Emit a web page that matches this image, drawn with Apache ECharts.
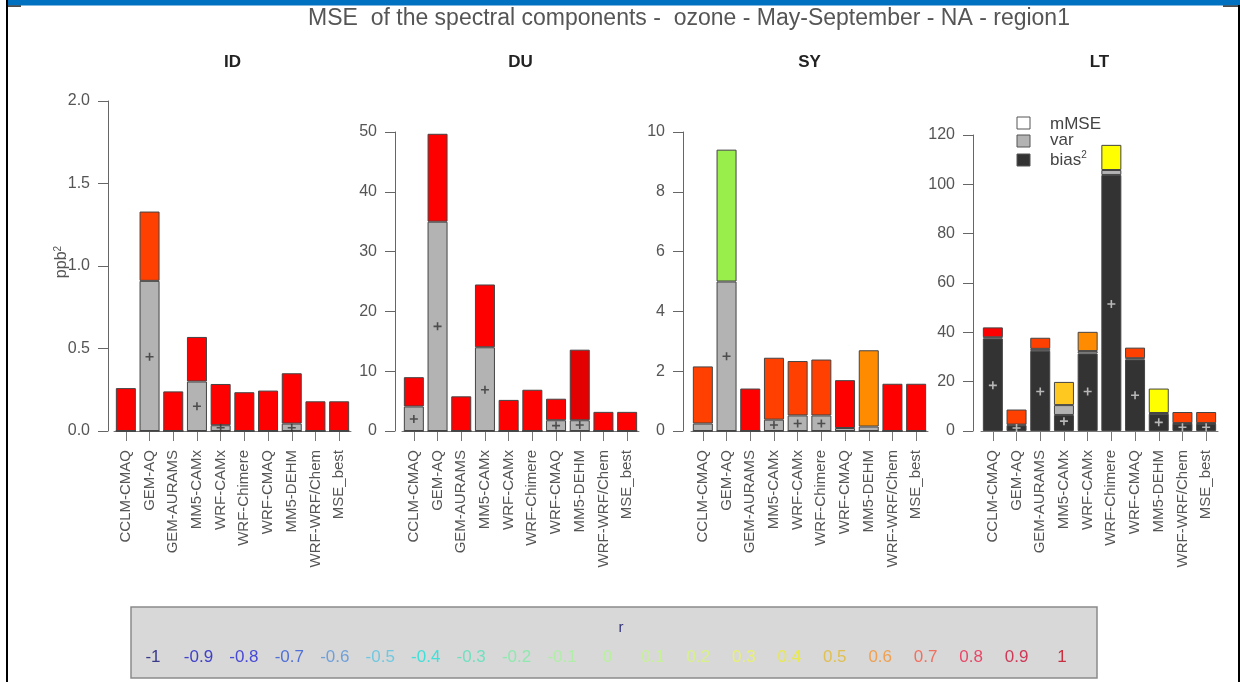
<!DOCTYPE html>
<html>
<head>
<meta charset="utf-8">
<script src="https://cdn.jsdelivr.net/npm/echarts@6/dist/echarts.min.js"></script>
<style>
html, body { margin: 0; padding: 0; background: #fff; }
#main { width: 1240px; height: 682px; }
</style>
</head>
<body>
<div id="main"></div>
<script>
var myChart = echarts.init(document.getElementById('main'));

var models = ['CCLM-CMAQ', 'GEM-AQ', 'GEM-AURAMS', 'MM5-CAMx', 'WRF-CAMx', 'WRF-Chimere', 'WRF-CMAQ', 'MM5-DEHM', 'WRF-WRF/Chem', 'MSE_best'];
var panelNames = ['ID', 'DU', 'SY', 'LT'];

// ID
var idBias = [0, 0, 0, 0, 0, 0, 0, 0, 0, 0];
var idVar  = [0, 0.91, 0, 0.30, 0.035, 0, 0, 0.045, 0, 0];
var idMse  = [0.26, 0.42, 0.24, 0.27, 0.25, 0.235, 0.245, 0.305, 0.18, 0.18];
var idR    = [0.9, 0.8, 0.9, 0.9, 0.9, 0.9, 0.9, 0.9, 0.9, 0.9];
var idPlus = ['-', 0.45, '-', 0.15, 0.02, '-', '-', 0.02, '-', '-'];
// DU
var duBias = [0, 0, 0, 0, 0, 0, 0, 0, 0, 0];
var duVar  = [4.1, 35.0, 0, 14.0, 0, 0, 1.8, 1.8, 0, 0];
var duMse  = [4.9, 14.7, 5.8, 10.5, 5.2, 6.9, 3.6, 11.8, 3.2, 3.2];
var duR    = [0.9, 0.9, 0.9, 0.9, 0.9, 0.9, 0.9, 1, 0.9, 0.9];
var duPlus = [2.0, 17.5, '-', 6.9, '-', '-', 0.9, 1.0, '-', '-'];
// SY
var syBias = [0, 0, 0, 0, 0, 0, 0, 0, 0, 0];
var syVar  = [0.25, 5.0, 0, 0.38, 0.52, 0.52, 0.1, 0.15, 0, 0];
var syMse  = [1.91, 4.41, 1.42, 2.07, 1.82, 1.87, 1.6, 2.55, 1.58, 1.58];
var syR    = [0.8, 0.1, 0.9, 0.8, 0.8, 0.8, 0.9, 0.6, 0.9, 0.9];
var syPlus = ['-', 2.5, '-', 0.2, 0.25, 0.25, '-', '-', '-', '-'];
// LT
var ltBias = [37.5, 2.3, 32.5, 6.5, 31.4, 103.8, 29.0, 7.0, 3.0, 3.0];
var ltVar  = [0.5, 0.3, 0.8, 4.0, 1.0, 2.0, 0.5, 0.3, 0.2, 0.2];
var ltMse  = [4.0, 6.1, 4.5, 9.4, 7.8, 10.2, 4.3, 9.9, 4.5, 4.5];
var ltR    = [0.9, 0.8, 0.8, 0.5, 0.6, 0.4, 0.8, 0.4, 0.8, 0.8];
var ltPlus = [18.5, 1.2, 16, 4, 16, 51.5, 14.5, 3.5, 1.5, 1.5];

var yMax      = [2, 50, 10, 120];
var yInterval = [0.5, 10, 2, 20];

var rLabels = ['-1', '-0.9', '-0.8', '-0.7', '-0.6', '-0.5', '-0.4', '-0.3', '-0.2', '-0.1', '0',
               '0.1', '0.2', '0.3', '0.4', '0.5', '0.6', '0.7', '0.8', '0.9', '1'];

// colour of the mMSE part, by r
var barColors = ['#00008B', '#1010C0', '#2020E0', '#3050F0', '#4080F0', '#40B0F0', '#20E0E0', '#30E0B0',
                 '#50E890', '#70F070', '#90F060', '#99EE4C', '#C0F040', '#E0F020', '#FFFF00', '#FFC820',
                 '#FF8C00', '#FF6020', '#FF4000', '#FF0000', '#E40000'];
var textColors = ['#3A3A8A', '#4040C8', '#4848D8', '#5070D8', '#70A0D8', '#70C8E0', '#40E0D8', '#70E0C0',
                  '#90E8B0', '#B0EEA8', '#B8F0A0', '#C8F098', '#D8F088', '#E8F070', '#E8E850', '#E0C050',
                  '#F0A050', '#F07060', '#E84868', '#D03858', '#C83040'];
function rColor(r) { return barColors[Math.round((r + 1) * 10)]; }

var panelData = [
  [idBias, idVar, idMse, idR, idPlus],
  [duBias, duVar, duMse, duR, duPlus],
  [syBias, syVar, syMse, syR, syPlus],
  [ltBias, ltVar, ltMse, ltR, ltPlus]
];

var gridLeft = [114, 402, 691, 981];
var gridTop = [101, 132, 132, 135];
var axisOffset = [6, 7, 8, 8];

var font = 'Liberation Sans, Arial, sans-serif';
var grids = [], xAxes = [], yAxes = [], series = [];

for (var i = 0; i < 4; i++) {
  grids.push({ left: gridLeft[i], top: gridTop[i], width: 237, bottom: 251 });
  xAxes.push({
    type: 'category', gridIndex: i, data: models,
    axisLine: { show: true, lineStyle: { color: '#777' } },
    axisTick: { show: true, alignWithLabel: true, length: 10, lineStyle: { color: '#777' } },
    axisLabel: { rotate: 90, interval: 0, margin: 19, fontSize: 15, color: '#555', fontFamily: font }
  });
  yAxes.push({
    type: 'value', gridIndex: i, min: 0, max: yMax[i], interval: yInterval[i], offset: axisOffset[i],
    splitLine: { show: false },
    axisLine: { show: true, lineStyle: { color: '#666' } },
    axisTick: { show: true, length: 10, lineStyle: { color: '#666' } },
    axisLabel: {
      fontSize: 16, color: '#555', margin: 18, fontFamily: font,
      formatter: i === 0 ? function (v) { return v.toFixed(1); } : '{value}'
    }
  });
  var d = panelData[i];
  var border = { borderColor: '#444', borderWidth: 1 };
  series.push({
    type: 'bar', xAxisIndex: i, yAxisIndex: i, stack: 's' + i, barWidth: 20, data: d[0],
    itemStyle: Object.assign({ color: '#333333' }, border)
  });
  series.push({
    type: 'bar', xAxisIndex: i, yAxisIndex: i, stack: 's' + i, barWidth: 20, data: d[1],
    itemStyle: Object.assign({ color: '#B3B3B3' }, border)
  });
  series.push({
    type: 'bar', xAxisIndex: i, yAxisIndex: i, stack: 's' + i, barWidth: 20,
    data: d[2].map(function (v, k) { return { value: v, itemStyle: { color: rColor(d[3][k]) } }; }),
    itemStyle: border
  });
  series.push({
    type: 'scatter', xAxisIndex: i, yAxisIndex: i, data: d[4],
    symbol: 'path://M4,0H6V4H10V6H6V10H4V6H0V4H4Z', symbolSize: 8,
    itemStyle: { color: i === 3 ? '#D8D8D8' : '#333' }
  });
}

var graphics = [
  // frame
  { type: 'rect', shape: { x: 7, y: 0, width: 1233, height: 5.5 }, style: { fill: '#0070C0' } },
  { type: 'rect', shape: { x: 6, y: 0, width: 2, height: 682 }, style: { fill: '#000' } },
  { type: 'rect', shape: { x: 1238, y: 5, width: 2, height: 677 }, style: { fill: '#000' } },
  { type: 'rect', shape: { x: 8, y: 5.5, width: 13, height: 1.2 }, style: { fill: '#000' } },
  { type: 'rect', shape: { x: 1223, y: 5.5, width: 15, height: 1.2 }, style: { fill: '#000' } },
  // title
  { type: 'text', x: 689, y: 19, style: { text: 'MSE  of the spectral components -  ozone - May-September - NA - region1',
      font: '23px ' + font, fill: '#555', align: 'center', verticalAlign: 'middle' } },
  // y name
  { type: 'text', x: 62, y: 262, rotation: Math.PI / 2,
    style: { text: '{a|ppb}{b|2}', align: 'center', verticalAlign: 'middle', fill: '#555',
      rich: { a: { fontSize: 16, fontFamily: font, fill: '#555', lineHeight: 18 },
              b: { fontSize: 10, fontFamily: font, fill: '#555', verticalAlign: 'top', lineHeight: 18 } } } },
  // LT legend
  { type: 'rect', shape: { x: 1017, y: 117, width: 13, height: 12 }, style: { fill: '#fff', stroke: '#555', lineWidth: 1 } },
  { type: 'rect', shape: { x: 1017, y: 135, width: 13, height: 12 }, style: { fill: '#B3B3B3', stroke: '#555', lineWidth: 1 } },
  { type: 'rect', shape: { x: 1017, y: 154, width: 13, height: 12 }, style: { fill: '#333', stroke: '#555', lineWidth: 1 } },
  { type: 'text', x: 1050, y: 124, style: { text: 'mMSE', font: '17px ' + font, fill: '#444', verticalAlign: 'middle' } },
  { type: 'text', x: 1050, y: 140, style: { text: 'var', font: '17px ' + font, fill: '#444', verticalAlign: 'middle' } },
  { type: 'text', x: 1050, y: 160, style: { text: '{a|bias}{b|2}', verticalAlign: 'middle', fill: '#444',
      rich: { a: { fontSize: 17, fontFamily: font, fill: '#444', lineHeight: 20 },
              b: { fontSize: 10, fontFamily: font, fill: '#444', verticalAlign: 'top', lineHeight: 20 } } } },
  // colour key box
  { type: 'rect', shape: { x: 131, y: 607, width: 966, height: 71 }, style: { fill: '#D8D8D8', stroke: '#8A8A8A', lineWidth: 1.5 } },
  { type: 'text', x: 621, y: 628, style: { text: 'r', font: '15px ' + font, fill: '#33337A', align: 'center', verticalAlign: 'middle' } }
];
for (var j = 0; j < 4; j++) {
  graphics.push({ type: 'text', x: gridLeft[j] + 118.5, y: 62,
    style: { text: panelNames[j], font: 'bold 17px ' + font, fill: '#222', align: 'center', verticalAlign: 'middle' } });
}
for (var k = 0; k < rLabels.length; k++) {
  graphics.push({ type: 'text', x: 153 + k * 45.45, y: 657,
    style: { text: rLabels[k], font: '17px ' + font, fill: textColors[k], align: 'center', verticalAlign: 'middle' } });
}

var option = {
  backgroundColor: '#fff',
  animation: false,
  grid: grids,
  xAxis: xAxes,
  yAxis: yAxes,
  series: series,
  graphic: graphics
};
myChart.setOption(option);
</script>
</body>
</html>
